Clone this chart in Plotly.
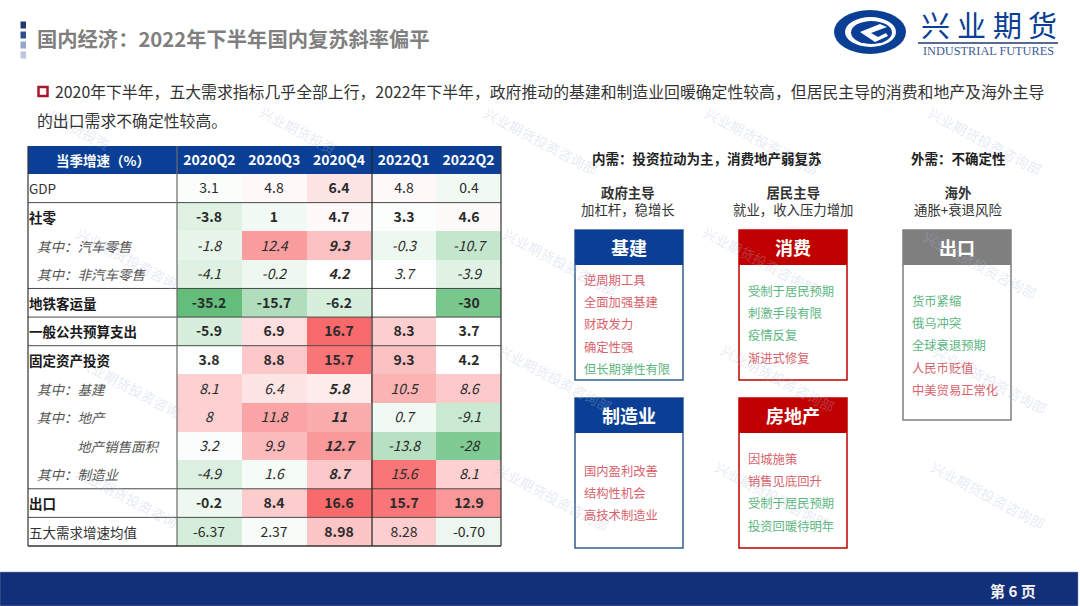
import plotly.graph_objects as go

CN_FONT = "Noto Sans CJK SC"

columns = ["2020Q2", "2020Q3", "2020Q4", "2022Q1", "2022Q2"]
rows = ["GDP", "社零", "其中：汽车零售", "其中：非汽车零售", "地铁客运量", "一般公共预算支出",
        "固定资产投资", "其中：基建", "其中：地产", "地产销售面积", "其中：制造业", "出口", "五大需求增速均值"]
row_kinds = ["plain", "bold", "sub", "sub", "bold", "bold", "bold", "sub", "sub", "sub", "sub", "bold", "plain"]

gdp = [3.1, 4.8, 6.4, 4.8, 0.4]
retail = [-3.8, 1, 4.7, 3.3, 4.6]
auto_retail = [-1.8, 12.4, 9.3, -0.3, -10.7]
non_auto_retail = [-4.1, -0.2, 4.2, 3.7, -3.9]
subway = [-35.2, -15.7, -6.2, None, -30]
public_budget = [-5.9, 6.9, 16.7, 8.3, 3.7]
fixed_invest = [3.8, 8.8, 15.7, 9.3, 4.2]
infra = [8.1, 6.4, 5.8, 10.5, 8.6]
property_inv = [8, 11.8, 11, 0.7, -9.1]
property_sales = [3.2, 9.9, 12.7, -13.8, -28]
manufacturing = [-4.9, 1.6, 8.7, 15.6, 8.1]
exports = [-0.2, 8.4, 16.6, 15.7, 12.9]
demand_mean = [-6.37, 2.37, 8.98, 8.28, -0.70]
table_values = [gdp, retail, auto_retail, non_auto_retail, subway, public_budget, fixed_invest,
                infra, property_inv, property_sales, manufacturing, exports, demand_mean]

BLUE = "#0a3f95"
DARK_RED = "#c00000"
GREY = "#7f7f7f"
UP = "#d8626c"
DOWN = "#5db682"

# title, left, top, bottom, header colour, items, item colours, first item y, item spacing
boxes = [
    ("基建", 575, 230, 380, BLUE, ["逆周期工具", "全面加强基建", "财政发力", "确定性强", "但长期弹性有限"],
     [UP, UP, UP, UP, DOWN], 280, 22.2),
    ("消费", 739, 230, 380, DARK_RED, ["受制于居民预期", "刺激手段有限", "疫情反复", "渐进式修复"],
     [DOWN, DOWN, DOWN, UP], 291, 22.2),
    ("出口", 903, 230, 420, GREY, ["货币紧缩", "俄乌冲突", "全球衰退预期", "人民币贬值", "中美贸易正常化"],
     [DOWN, DOWN, DOWN, UP, UP], 301, 22.2),
    ("制造业", 575, 398, 548, BLUE, ["国内盈利改善", "结构性机会", "高技术制造业"],
     [UP, UP, UP], 471, 22.2),
    ("房地产", 739, 398, 548, DARK_RED, ["因城施策", "销售见底回升", "受制于居民预期", "投资回暖待明年"],
     [UP, UP, DOWN, DOWN], 459, 22.2),
]

watermarks = [
    ("业期货投资", 78, 129), ("兴业期货投资", 298, 130), ("兴业期货投资咨询部", 541, 141),
    ("兴业期货投资咨询部", 762, 141), ("兴业期货投资咨询部", 985, 141),
    ("兴业期货投资咨询", 127, 258), ("兴业期货投资咨询部", 560, 262), ("兴业期货投资咨询部", 760, 260),
    ("兴业期货投资咨询部", 980, 265), ("兴业期货投资咨询", 130, 387), ("兴业期货投资咨询部", 555, 378),
    ("兴业期货投资咨询部", 778, 378), ("兴业期货投资咨询部", 990, 380), ("兴业期货投资咨询", 127, 497),
    ("兴业期货投资咨询部", 552, 497), ("兴业期货投资咨询部", 772, 495), ("兴业期货投资咨询部", 988, 495),
]


def cell_text(value, kind, col, row):
    if value is None:
        return ""
    text = f"{value:.2f}" if row == "五大需求增速均值" else str(value)
    if kind == "bold" or col == "2020Q4":
        text = f"<b>{text}</b>"
    if kind == "sub":
        text = f"<i>{text}</i>"
    return text


cell_labels = [[cell_text(v, kind, c, r) for v, c in zip(vals, columns)]
               for vals, kind, r in zip(table_values, row_kinds, rows)]

# three colour scale as in a spreadsheet: min green, median white, max red
z_min, z_mid, z_max = -35.2, 4.2, 16.7
mid_pos = (z_mid - z_min) / (z_max - z_min)

fig = go.Figure()
fig.add_trace(go.Heatmap(
    x=columns, y=rows, z=table_values, text=cell_labels, texttemplate="%{text}",
    textfont=dict(family=CN_FONT, size=14, color="#2b2b2b"),
    colorscale=[[0, "#63be7b"], [mid_pos, "#ffffff"], [1, "#f8696b"]],
    zmin=z_min, zmax=z_max, showscale=False, xaxis="x2", yaxis="y2", hoverongaps=False,
))

shapes = []
annotations = []


def add_text(text, x, y, size=14, color="#333333", anchor="center", yref="y", angle=0, family=CN_FONT):
    # annotations carry a small padding, pull left aligned text back onto its x
    if anchor == "left":
        x -= 2
    annotations.append(dict(text=text, x=x, y=y, xref="x", yref=yref, showarrow=False, xanchor=anchor,
                            yanchor="middle", textangle=angle, font=dict(family=family, size=size, color=color)))


def add_rect(x0, y0, x1, y1, fill="rgba(0,0,0,0)", line=None, width=0, layer="below"):
    shapes.append(dict(type="rect", xref="x", yref="y", x0=x0, y0=y0, x1=x1, y1=y1, fillcolor=fill,
                       line=dict(color=line, width=width), layer=layer))


# watermark first so the slide text sits on top of it
for text, x, y in watermarks:
    add_text(text, x, y, size=14, color="rgba(170,186,218,0.3)", angle=28)

# title bar
for y, colour in zip([25, 35, 45, 55], ["#1f3a73", "#2c4f8f", "#95a5cc", "#bcc6dc"]):
    shapes.append(dict(type="rect", xref="x", yref="y", x0=20.5, x1=26, y0=y - 3.5, y1=y + 3.5,
                       fillcolor=colour, line=dict(width=0), layer="below"))
add_text("<b>国内经济：2022年下半年国内复苏斜率偏平</b>", 37, 38, size=20.3, color=GREY, anchor="left")

# logo
shapes.append(dict(type="circle", xref="x", yref="y", x0=834, x1=906, y0=10, y1=54, fillcolor=BLUE, line=dict(width=0)))
shapes.append(dict(type="circle", xref="x", yref="y", x0=845, x1=896, y0=17, y1=47, fillcolor="white", line=dict(width=0)))
shapes.append(dict(type="circle", xref="x", yref="y", x0=851, x1=892, y0=21, y1=44, fillcolor=BLUE, line=dict(width=0)))
shapes.append(dict(type="path", xref="x", yref="y", path="M 860 32 L 880 24 L 887 27 L 871 33 L 878 37 L 886 33 L 888 36 L 875 42 Z",
                   fillcolor="white", line=dict(width=0)))
for char, x in zip("兴业期货", [935, 971, 1007, 1042]):
    add_text(char, x, 24, size=29, color=BLUE)
shapes.append(dict(type="line", xref="x", yref="y", x0=918, x1=1058, y0=43, y1=43, line=dict(color="#1f3a73", width=1.5)))
add_text("INDUSTRIAL FUTURES", 988, 50.5, size=12.3, color="#3d5c94", family="Liberation Serif")

# intro text
add_rect(38.5, 87, 47.5, 96, fill="white", line="#a5192a", width=2.5)
add_text("2020年下半年，五大需求指标几乎全部上行，2022年下半年，政府推动的基建和制造业回暖确定性较高，但居民主导的消费和地产及海外主导",
         55, 91, size=15.85, anchor="left")
add_text("的出口需求不确定性较高。", 37, 120, size=15.85, anchor="left")

# table frame
add_rect(28, 146, 501, 174, fill=BLUE)
add_text("<b>当季增速（%）</b>", 103, 160, size=13.5, color="white")
for row, kind in zip(rows, row_kinds):
    label_x = 29
    label = row
    colour = "#333333"
    if kind == "bold":
        label = f"<b>{row}</b>"
        colour = "#1a1a1a"
    elif kind == "sub":
        label = f"<i>{row}</i>"
        label_x = 77 if row == "地产销售面积" else 37
        colour = "#555555"
    add_text(label, label_x, row, size=13.5, color=colour, anchor="left", yref="y2")

for row in ["GDP", "其中：非汽车零售", "地铁客运量", "一般公共预算支出", "其中：制造业", "出口"]:
    pos = rows.index(row) + 0.5
    shapes.append(dict(type="line", xref="x", yref="y2", x0=28, x1=501, y0=pos, y1=pos,
                       line=dict(color="#4a4a4a", width=1), layer="above"))
for x, colour in [(28, "#333333"), (177, "#6a6a6a"), (372, "#222222"), (501, "#333333")]:
    shapes.append(dict(type="line", xref="x", yref="y", x0=x, x1=x, y0=146, y1=546,
                       line=dict(color=colour, width=1.2), layer="above"))
shapes.append(dict(type="line", xref="x", yref="y", x0=28, x1=501, y0=546, y1=546,
                   line=dict(color="#333333", width=1.5), layer="above"))

# right hand panels
add_text("<b>内需：投资拉动为主，消费地产弱复苏</b>", 707, 158, size=13.5, color="#222222")
add_text("<b>外需：不确定性</b>", 958, 158, size=13.5, color="#222222")
for head, sub, x in [("政府主导", "加杠杆，稳增长", 628), ("居民主导", "就业，收入压力增加", 793), ("海外", "通胀+衰退风险", 958)]:
    # one annotation with a line break, the two lines sit tighter than separate boxes allow
    add_text(f"<b>{head}</b><br>{sub}", x, 200.5, size=13.4, color="#333333")

for title, left, top, bottom, colour, items, item_colours, first_y, step in boxes:
    right = left + 108
    border = "#2f5d8c" if colour == BLUE else colour
    add_rect(left, top, right, bottom, fill="white", line=border, width=1.5)
    add_rect(left, top, right, top + 35, fill=colour)
    add_text(f"<b>{title}</b>", left + 54, top + 17, size=18, color="white")
    for i, (item, item_colour) in enumerate(zip(items, item_colours)):
        add_text(item, left + 8.5, first_y + i * step, size=12.3, color=item_colour, anchor="left")

# footer
add_rect(0, 572, 1078, 606, fill="#12307a", line="#7f93b8", width=0.5)
add_text("<b>第 6 页</b>", 1013, 590, size=15, color="#f2f2f2")

fig.update_layout(
    width=1080, height=606, margin=dict(l=0, r=0, t=0, b=0),
    paper_bgcolor="white", plot_bgcolor="rgba(0,0,0,0)", showlegend=False,
    font=dict(family=CN_FONT),
    xaxis=dict(range=[0, 1080], domain=[0, 1], visible=False, fixedrange=True),
    yaxis=dict(range=[606, 0], domain=[0, 1], visible=False, fixedrange=True),
    xaxis2=dict(domain=[177 / 1080, 501 / 1080], anchor="y2", side="top", type="category", showgrid=False,
                ticks="", showline=False, ticklabelstandoff=5, tickangle=0,
                tickfont=dict(family=CN_FONT, size=14, color="white", weight="bold")),
    yaxis2=dict(domain=[1 - 546 / 606, 1 - 174 / 606], anchor="x2", type="category", autorange="reversed",
                showgrid=False, showticklabels=False, ticks="", showline=False),
    shapes=shapes, annotations=annotations,
)
# dummy point keeps the pixel axes alive behind the slide
fig.add_trace(go.Scatter(x=[0], y=[0], mode="markers", marker=dict(opacity=0), showlegend=False, hoverinfo="skip"))

fig.write_html("out.html", config=dict(displayModeBar=False), post_script="document.body.style.margin='0';")
